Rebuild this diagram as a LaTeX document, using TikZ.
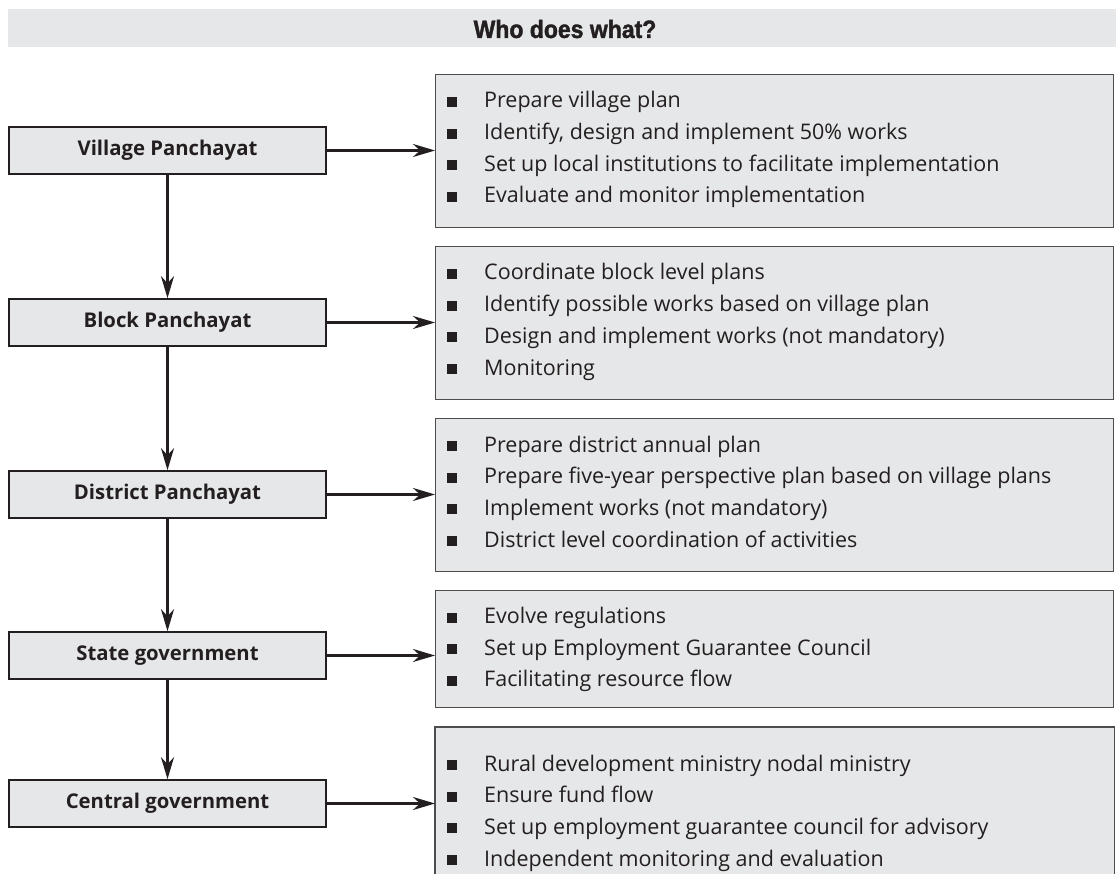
\documentclass[tikz,border=0pt]{standalone}
\usepackage{fontspec}
\setmainfont{Open Sans}
\newfontfamily\titlefont[FakeStretch=0.92, FakeBold=1.5]{Liberation Sans}
\usetikzlibrary{arrows.meta}
\definecolor{boxgray}{HTML}{E6E7E8}
\definecolor{darkline}{HTML}{231F20}
\definecolor{greyline}{HTML}{4D4D4D}
\newcommand{\bodysize}{\fontsize{21.5}{24}\selectfont}
\tikzset{
  x=1pt, y=-1pt,
  leftbox/.style={draw=darkline, line width=1.6pt, fill=boxgray, minimum width=317pt, minimum height=47pt,
    inner sep=0pt, font=\fontsize{20.3}{23}\selectfont\bfseries, text=darkline},
  rightbox/.style={draw=greyline, line width=1.4pt, fill=boxgray, minimum width=678pt, anchor=north west, inner sep=0pt},
  item/.style={anchor=base west, inner sep=0pt, font=\bodysize, text=darkline},
  flow/.style={draw=darkline, line width=2.4pt, -{Stealth[length=22pt, width=13pt, inset=7pt]}},
}
\newcommand{\itemrow}[3]{%
  \fill[darkline] (447,#1-11) rectangle (457,#1-1);
  \node[item] (#2) at (484,#1) {#3};
}
\begin{document}
\begin{tikzpicture}
\useasboundingbox (0,0) rectangle (1116,874);
% title
\node[fill=boxgray, minimum width=1108pt, minimum height=38pt, inner sep=0pt, anchor=north west] (title) at (8,9) {};
\node[text=darkline, font=\titlefont\fontsize{25}{28}\selectfont\bfseries] (titletext) at (565,29) {Who does what?};

% left boxes
\node[leftbox] (vp) at (167.5,150.5) {Village Panchayat};
\node[leftbox] (bp) at (167.5,322.5) {Block Panchayat};
\node[leftbox] (dp) at (167.5,494.5) {District Panchayat};
\node[leftbox] (sg) at (167.5,655.5) {State government};
\node[leftbox] (cg) at (167.5,803.5) {Central government};

% right boxes
\node[rightbox, minimum height=153pt] (r1) at (435,74) {};
\node[rightbox, minimum height=153pt] (r2) at (435,246) {};
\node[rightbox, minimum height=153pt] (r3) at (435,418) {};
\node[rightbox, minimum height=117pt] (r4) at (435,590) {};
\node[rightbox, draw=none, minimum height=150pt] (r5) at (435,727) {};
\draw[greyline, line width=1.4pt] (r5.south west) -- (r5.north west) -- (r5.north east) -- (r5.south east);

% items
\itemrow{108}{a1}{Prepare village plan}
\itemrow{139.7}{a2}{Identify, design and implement 50\% works}
\itemrow{171.4}{a3}{Set up local institutions to facilitate implementation}
\itemrow{203}{a4}{Evaluate and monitor implementation}

\itemrow{280}{b1}{Coordinate block level plans}
\itemrow{311.7}{b2}{Identify possible works based on village plan}
\itemrow{343.4}{b3}{Design and implement works (not mandatory)}
\itemrow{375}{b4}{Monitoring}

\itemrow{452}{c1}{Prepare district annual plan}
\itemrow{483.7}{c2}{Prepare five-year perspective plan based on village plans}
\itemrow{515.4}{c3}{Implement works (not mandatory)}
\itemrow{547}{c4}{District level coordination of activities}

\itemrow{623.5}{d1}{Evolve regulations}
\itemrow{655}{d2}{Set up Employment Guarantee Council}
\itemrow{686.5}{d3}{Facilitating resource flow}

\itemrow{771}{e1}{Rural development ministry nodal ministry}
\itemrow{802.7}{e2}{Ensure fund flow}
\itemrow{834.4}{e3}{Set up employment guarantee council for advisory}
\itemrow{866}{e4}{Independent monitoring and evaluation}

% connectors
\draw[flow] (vp.east) -- (vp.east -| r1.west);
\draw[flow] (bp.east) -- (bp.east -| r2.west);
\draw[flow] (dp.east) -- (dp.east -| r3.west);
\draw[flow] (sg.east) -- (sg.east -| r4.west);
\draw[flow] (cg.east) -- (cg.east -| r5.west);

\draw[flow] (vp.south) -- (bp.north);
\draw[flow] (bp.south) -- (dp.north);
\draw[flow] (dp.south) -- (sg.north);
\draw[flow] (sg.south) -- (cg.north);
\end{tikzpicture}
\end{document}
